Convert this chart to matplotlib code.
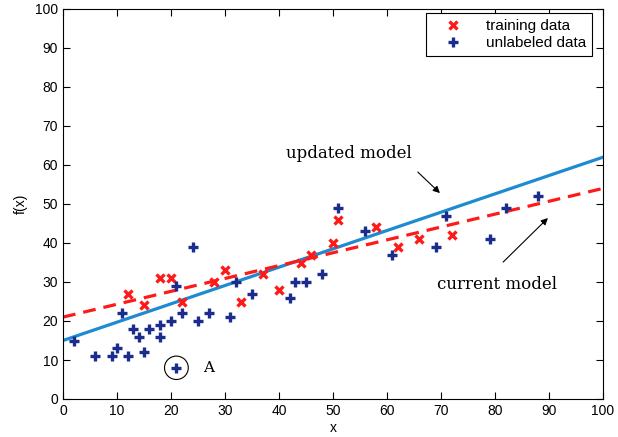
import matplotlib
matplotlib.use("Agg")
import matplotlib.pyplot as plt
from matplotlib.patches import Ellipse

train_x = [12, 15, 18, 20, 22, 28, 30, 33, 37, 40, 44, 46, 50, 51, 58, 62, 66, 72]
train_y = [27, 24, 31, 31, 25, 30, 33, 25, 32, 28, 35, 37, 40, 46, 44, 39, 41, 42]

unl_x = [2, 6, 9, 10, 11, 12, 13, 14, 15, 16, 18, 18, 20, 21, 22, 24, 25, 27, 31, 32,
         35, 42, 43, 45, 48, 51, 56, 61, 69, 71, 79, 82, 88, 21]
unl_y = [15, 11, 11, 13, 22, 11, 18, 16, 12, 18, 19, 16, 20, 29, 22, 39, 20, 22, 21, 30,
         27, 26, 30, 30, 32, 49, 43, 37, 39, 47, 41, 49, 52, 8]

updated_x = [0, 100]
updated_y = [15, 62]
current_x = [0, 100]
current_y = [21, 54]

point_A = (21, 8)

plt.rcParams['font.family'] = ['Liberation Sans', 'DejaVu Sans']

fig = plt.figure(figsize=(6.18, 4.37), dpi=100)
ax = fig.add_axes([63/618, 1-399/437, 540/618, 390/437])

ax.plot(updated_x, updated_y, color='#1e8bd1', lw=2.3, zorder=2)
ax.plot(current_x, current_y, color='#ff1a1a', lw=2.3, ls=(0, (4, 2.5)), zorder=2)

ax.plot(train_x, train_y, ls='none', marker='x', color='#ff1a1a', ms=5.5, mew=2.4,
        label='training data', zorder=3)
ax.plot(unl_x, unl_y, ls='none', marker='+', color='#1a2d8c', ms=7.5, mew=2.4,
        label='unlabeled data', zorder=3)

ax.add_patch(Ellipse(point_A, width=4.4, height=6.0, fill=False, color='black', lw=0.8))
ax.text(26.0, 8, 'A', family='DejaVu Serif', fontsize=11, va='center', ha='left')

ax.text(53, 63, 'updated model', fontsize=12, family='DejaVu Serif',
        ha='center', va='center')
ax.annotate('', xy=(69.8, 52.8), xytext=(65.7, 58.2),
            arrowprops=dict(arrowstyle='-|>', color='black', lw=0.8,
                            shrinkA=0, shrinkB=0, mutation_scale=10))
ax.text(80.4, 29.3, 'current model', fontsize=12, family='DejaVu Serif',
        ha='center', va='center')
ax.annotate('', xy=(89.8, 46.4), xytext=(81.5, 35.1),
            arrowprops=dict(arrowstyle='-|>', color='black', lw=0.8,
                            shrinkA=0, shrinkB=0, mutation_scale=10))

ax.set_xlim(0, 100)
ax.set_ylim(0, 100)
ax.set_xticks(range(0, 101, 10))
ax.set_yticks(range(0, 101, 10))
ax.tick_params(direction='in', top=True, right=True, labelsize=10, length=5)
ax.set_xlabel('x', fontsize=10, labelpad=2)
ax.set_ylabel('f(x)', fontsize=10, labelpad=5)

leg = ax.legend(loc='upper right', bbox_to_anchor=((592-63)/540, (399-13)/390),
                fontsize=11, fancybox=False, edgecolor='black',
                framealpha=1, borderaxespad=0, handletextpad=0.8, borderpad=0.4,
                labelspacing=0.2, handlelength=2.7)
leg.get_frame().set_linewidth(0.8)

fig.savefig('out.png', dpi=100)
